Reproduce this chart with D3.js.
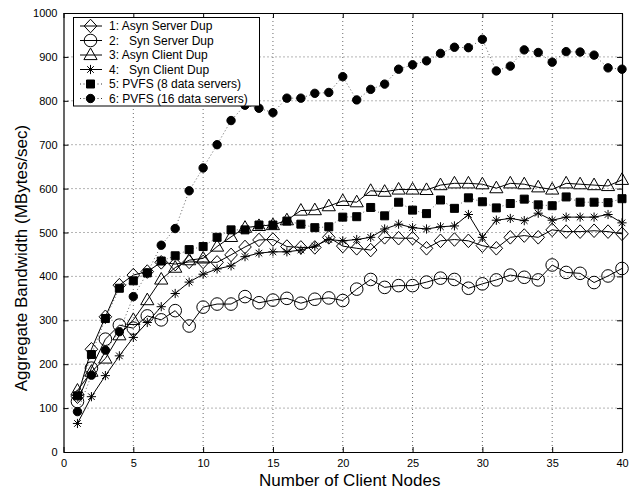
<!DOCTYPE html>
<html>
<head>
<meta charset="utf-8">
<script src="https://cdn.jsdelivr.net/npm/d3@7"></script>
<style>
html,body{margin:0;padding:0;background:#fff;}
svg{display:block;font-family:"Liberation Sans",Arial,sans-serif;}
</style>
</head>
<body>
<svg id="chart" width="629" height="489"></svg>
<script>
// ---- data ----
const nodes = [1,2,3,4,5,6,7,8,9,10,11,12,13,14,15,16,17,18,19,20,21,22,23,24,25,26,27,28,29,30,31,32,33,34,35,36,37,38,39,40];
const asynServerDup = [126,234,308,380,403,411,432,428,433,433,432,449,467,483,484,468,466,466,489,469,464,460,489,487,487,464,481,484,481,470,464,489,493,489,506,502,502,504,502,497];
const synServerDup  = [115,191,257,289,282,310,301,322,287,330,337,337,354,340,346,350,339,348,351,345,371,393,375,379,379,387,396,393,373,383,392,403,398,392,426,409,407,386,401,418];
const asynClientDup = [140,183,213,266,301,346,393,420,437,441,468,490,511,515,517,528,550,551,560,572,569,595,593,598,598,597,608,612,612,610,601,612,610,603,598,612,610,608,606,620];
const synClientDup  = [65,126,174,219,261,295,331,361,387,405,417,424,445,453,456,456,460,469,484,481,484,489,508,519,511,508,513,515,541,489,528,532,527,544,528,535,535,535,541,522];
const pvfs8  = [128,222,304,373,390,408,435,447,461,468,489,506,506,517,517,526,519,511,513,535,536,557,538,569,551,543,574,555,579,570,556,566,576,563,561,581,569,569,568,577];
const pvfs16 = [92,175,232,274,354,408,471,509,595,647,700,755,790,783,773,806,806,817,819,855,802,826,838,872,882,891,908,922,921,940,868,879,916,910,888,912,911,904,875,872];
const seriesNames = ["1: Asyn Server Dup","2:   Syn Server Dup","3: Asyn Client Dup","4:   Syn Client Dup","5: PVFS (8 data servers)","6: PVFS (16 data servers)"];
const xTicks = [0,5,10,15,20,25,30,35,40];
const yTicks = [0,100,200,300,400,500,600,700,800,900,1000];
const xLabel = "Number of Client Nodes";
const yLabel = "Aggregate Bandwidth (MBytes/sec)";

// ---- chart ----
const svg = d3.select("#chart");
const L = 63.5, R = 622, T = 13, B = 452;
const x = d3.scaleLinear().domain([0,40]).range([L,R]);
const y = d3.scaleLinear().domain([0,1000]).range([B,T]);

const series = [
  {name: seriesNames[0], values: asynServerDup, marker: "diamond", line: "solid"},
  {name: seriesNames[1], values: synServerDup, marker: "circle", line: "solid"},
  {name: seriesNames[2], values: asynClientDup, marker: "triangle", line: "solid"},
  {name: seriesNames[3], values: synClientDup, marker: "asterisk", line: "solid"},
  {name: seriesNames[4], values: pvfs8, marker: "square", line: "dotted"},
  {name: seriesNames[5], values: pvfs16, marker: "dot", line: "dotted"}
];

const markerPath = {
  diamond: "M0,-6.8L6.3,0L0,6.8L-6.3,0Z",
  circle: d3.arc()({innerRadius:0,outerRadius:6.3,startAngle:0,endAngle:2*Math.PI}),
  triangle: "M0,-7L6.6,4.6L-6.6,4.6Z",
  asterisk: "M0,-4.6L0,4.6M-4.6,0L4.6,0M-3.3,-3.3L3.3,3.3M-3.3,3.3L3.3,-3.3",
  square: "M-4,-4L4,-4L4,4L-4,4Z",
  dot: d3.arc()({innerRadius:0,outerRadius:4.2,startAngle:0,endAngle:2*Math.PI})
};
const filled = {square:true, dot:true};

// gridlines
const grid = svg.append("g").attr("stroke","#444").attr("stroke-width",0.8).attr("stroke-dasharray","1,3");
grid.selectAll("line.gx").data(xTicks.slice(1,-1)).join("line")
  .attr("x1",d=>x(d)).attr("x2",d=>x(d)).attr("y1",T).attr("y2",B);
grid.selectAll("line.gy").data(yTicks.slice(1,-1)).join("line")
  .attr("y1",d=>y(d)).attr("y2",d=>y(d)).attr("x1",L).attr("x2",R);

// axes
const fs = "11px";
const fmt = d => String(d);
const gB = svg.append("g").attr("transform",`translate(0,${B})`)
  .call(d3.axisBottom(x).tickValues(xTicks).tickFormat(fmt).tickSizeInner(-5).tickSizeOuter(0).tickPadding(7));
const gL = svg.append("g").attr("transform",`translate(${L},0)`)
  .call(d3.axisLeft(y).tickValues(yTicks).tickFormat(fmt).tickSizeInner(-5).tickSizeOuter(0).tickPadding(6));
const gT = svg.append("g").attr("transform",`translate(0,${T})`)
  .call(d3.axisTop(x).tickValues(xTicks).tickSizeInner(-5).tickSizeOuter(0).tickFormat(""));
const gR = svg.append("g").attr("transform",`translate(${R},0)`)
  .call(d3.axisRight(y).tickValues(yTicks).tickSizeInner(-5).tickSizeOuter(0).tickFormat(""));
[gB,gL,gT,gR].forEach(g=>{
  g.selectAll("text").attr("font-size",fs).attr("font-family","Liberation Sans, Arial, sans-serif").attr("fill","#000");
  g.selectAll("line").attr("stroke","#000");
  g.select(".domain").attr("stroke","#000").attr("stroke-width",1.2);
});

// lines
const lineGen = d3.line().x((d,i)=>x(nodes[i])).y(d=>y(d));
series.forEach(s=>{
  svg.append("path").attr("d",lineGen(s.values)).attr("fill","none")
    .attr("stroke", s.line==="solid" ? "#000" : "#333")
    .attr("stroke-width", s.line==="solid" ? 1 : 0.8)
    .attr("stroke-dasharray", s.line==="solid" ? null : "1,2.5");
});
// markers
series.forEach(s=>{
  svg.append("g").selectAll("path").data(s.values).join("path")
    .attr("transform",(d,i)=>`translate(${x(nodes[i])},${y(d)})`)
    .attr("d",markerPath[s.marker])
    .attr("fill", filled[s.marker] ? "#000" : "none")
    .attr("stroke","#000").attr("stroke-width",1);
});

// axis labels
svg.append("text").attr("x",(L+R)/2+7).attr("y",486).attr("text-anchor","middle")
  .attr("font-size","17px").text(xLabel);
svg.append("text").attr("transform","translate(27,258) rotate(-90)").attr("text-anchor","middle")
  .attr("font-size","17px").text(yLabel);

// legend
const lg = svg.append("g");
lg.append("rect").attr("x",73.5).attr("y",17.5).attr("width",186).attr("height",88.5)
  .attr("fill","#fff").attr("stroke","#000").attr("stroke-width",1);
series.forEach((s,i)=>{
  const cy = 26 + i*14.5;
  lg.append("line").attr("x1",80).attr("x2",102).attr("y1",cy).attr("y2",cy)
    .attr("stroke","#000").attr("stroke-width", s.line==="solid"?1:0.8)
    .attr("stroke-dasharray", s.line==="solid"?null:"1,2.5");
  lg.append("path").attr("transform",`translate(90.5,${cy})`).attr("d",markerPath[s.marker])
    .attr("fill", filled[s.marker] ? "#000" : "none").attr("stroke","#000");
  lg.append("text").attr("x",109).attr("y",cy).attr("dy","0.36em").attr("font-size","12px")
    .attr("xml:space","preserve").style("white-space","pre").text(s.name);
});
</script>
</body>
</html>
